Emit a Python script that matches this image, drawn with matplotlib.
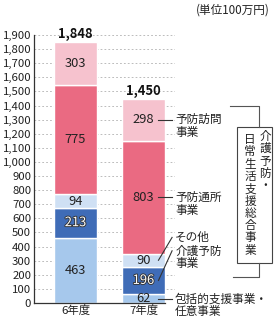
import matplotlib
matplotlib.use("Agg")
import matplotlib.pyplot as plt
import matplotlib.patheffects as pe
from matplotlib.lines import Line2D
from matplotlib.patches import Rectangle

plt.rcParams['font.family'] = ['Noto Sans CJK JP', 'DejaVu Sans']

# data (単位100万円)
years = ['6年度', '7年度']
houkatsu = [463, 62]      # 包括的支援事業・任意事業
kaigo_yobo = [213, 196]   # 介護予防事業
sonota = [94, 90]         # その他
tsusho = [775, 803]       # 予防通所事業
houmon = [303, 298]       # 予防訪問事業
totals = ['1,848', '1,450']

series = [houkatsu, kaigo_yobo, sonota, tsusho, houmon]
colors = ['#a6c8ec', '#3f6cb7', '#cfe0f4', '#ea6a82', '#f6c2ce']
text_colors = ['#222222', 'white', '#222222', '#222222', '#222222']

W, H = 275, 318
fig = plt.figure(figsize=(W / 100, H / 100), dpi=100)


def fx(px):
    return px / W


def fy(py):
    return 1 - py / H


ax = fig.add_axes([fx(34), fy(303), (175 - 34) / W, (303 - 35) / H])
ax.set_ylim(0, 1900)
ax.set_xlim(-0.61, 1.463)

x = [0, 1]
bottom = [0, 0]
for vals, c, tc in zip(series, colors, text_colors):
    ax.bar(x, vals, width=0.632, bottom=bottom, color=c,
           edgecolor='white', linewidth=1.0, zorder=2)
    for i in range(2):
        t = ax.text(x[i], bottom[i] + vals[i] / 2, str(vals[i]),
                    ha='center', va='center', fontsize=9.3, color=tc,
                    zorder=3)
        if tc == 'white':
            t.set_path_effects([pe.withStroke(linewidth=1.3,
                                              foreground='#333333')])
    bottom = [b + v for b, v in zip(bottom, vals)]

for i in range(2):
    ax.text(x[i], bottom[i] + 6, totals[i], ha='center', va='bottom',
            fontsize=9.3, fontweight='bold', color='#111111')

ax.set_yticks(range(0, 2000, 100))
ax.set_yticklabels(['{:,}'.format(v) for v in range(0, 2000, 100)])
ax.tick_params(axis='y', length=0, pad=2, labelsize=8.2, labelcolor='#222222')
ax.set_xticks(x)
ax.set_xticklabels(years)
ax.tick_params(axis='x', length=0, pad=1.5, labelsize=8.2, labelcolor='#222222')
ax.grid(axis='y', color='#bbbbbb', linestyle=(0, (1.8, 2.2)), linewidth=0.7,
        zorder=0)
for s in ['top', 'right']:
    ax.spines[s].set_visible(False)
ax.spines['left'].set_color('#333333')
ax.spines['bottom'].set_color('#333333')
ax.spines['left'].set_linewidth(0.9)
ax.spines['bottom'].set_linewidth(0.9)
ax.spines['bottom'].set_bounds(-0.61, 1.316)

# right side labels for 7年度
lc = '#333333'
xl0, xl1, xt = 1.22, 1.42, 1.465
mid = []
b = 0
for vals in series:
    mid.append(b + vals[1] / 2)
    b += vals[1]


def leader(y0, y1):
    ax.add_line(Line2D([xl0, xl1], [y0, y1], color=lc, linewidth=0.8,
                       clip_on=False))


leader(mid[4], mid[4])
ax.text(xt, mid[4] + 45, '予防訪問\n事業', ha='left', va='top', fontsize=8.4,
        linespacing=1.0, color='#222222')
leader(mid[3], mid[3])
ax.text(xt, mid[3] + 45, '予防通所\n事業', ha='left', va='top', fontsize=8.4,
        linespacing=1.0, color='#222222')
leader(mid[2], 465)
ax.text(xt, 465, 'その他', ha='left', va='center', fontsize=8.4,
        color='#222222')
leader(mid[1], 370)
ax.text(xt, 370 + 45, '介護予防\n事業', ha='left', va='top', fontsize=8.4,
        linespacing=1.0, color='#222222')
leader(mid[0], mid[0])
ax.text(xt, mid[0] + 45, '包括的支援事業・\n任意事業', ha='left', va='top',
        fontsize=8.4, linespacing=0.95, color='#222222', clip_on=False)

# bracket and vertical box
tf = fig.transFigure
fig.add_artist(Line2D([fx(230), fx(259), fx(259)], [fy(106), fy(106), fy(127)],
                      color='#555555', linewidth=0.8, transform=tf))
fig.add_artist(Line2D([fx(259), fx(259), fx(233)], [fy(263), fy(277), fy(277)],
                      color='#555555', linewidth=0.8, transform=tf))
fig.add_artist(Rectangle((fx(237), fy(263)), fx(272) - fx(237),
                         fy(127) - fy(263), fill=False, edgecolor='#444444',
                         linewidth=0.8, transform=tf))
fig.text(fx(265), fy(130), '\n'.join('介護予防・'), ha='center', va='top',
         fontsize=8.4, linespacing=0.93, color='#222222')
fig.text(fx(250), fy(133), '\n'.join('日常生活支援総合事業'), ha='center',
         va='top', fontsize=8.4, linespacing=0.93, color='#222222')

fig.text(fx(270), fy(10), '(単位100万円)', ha='right', va='center',
         fontsize=8.4, color='#222222')

fig.savefig('out.png', dpi=100)
